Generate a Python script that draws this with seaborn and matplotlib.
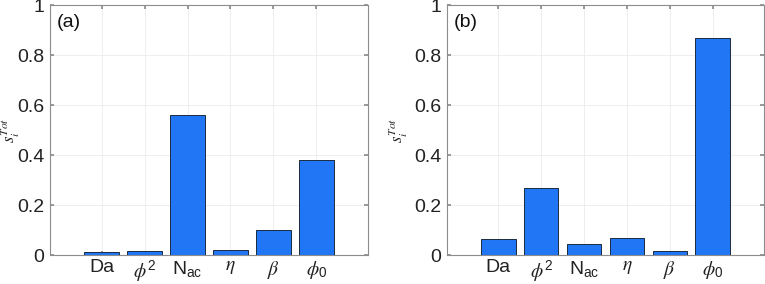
"""Total-order sensitivity indices for two cases, side-by-side bar panels."""

import matplotlib
matplotlib.use("Agg")
import matplotlib.pyplot as plt
import pandas as pd
import seaborn as sns

PARAMS = ["Da", r"$\phi^{\mathregular{2}}$", r"$\mathregular{N_{ac}}$", r"$\eta$", r"$\beta$",
          r"$\phi_{\mathregular{0}}$"]
S_TOT_A = [0.011, 0.016, 0.561, 0.021, 0.100, 0.381]
S_TOT_B = [0.065, 0.268, 0.043, 0.068, 0.016, 0.867]
PANEL_LABELS = ["(a)", "(b)"]
Y_TICKS = [0, 0.2, 0.4, 0.6, 0.8, 1]
Y_TICK_LABELS = ["0", "0.2", "0.4", "0.6", "0.8", "1"]

BAR_COLOR = "#2176f5"
EDGE_COLOR = "#1a2a40"

sns.set_theme(style="white")
plt.rcParams["font.family"] = ["Liberation Sans", "DejaVu Sans"]
plt.rcParams["mathtext.fontset"] = "stix"


def draw_panel(ax, values, label, ylabel_x):
    df = pd.DataFrame({"param": PARAMS, "value": values})
    sns.barplot(data=df, x="param", y="value", color=BAR_COLOR, width=0.8,
                edgecolor=EDGE_COLOR, linewidth=0.7, saturation=1, ax=ax)
    ax.set_xlim(-1.2, 6.2)
    ax.set_ylim(0, 1)
    ax.set_yticks(Y_TICKS)
    ax.set_yticklabels(Y_TICK_LABELS)
    ax.set_xlabel("")
    ax.set_ylabel(r"$s_i^{Tot}$", fontsize=12, va="center")
    ax.yaxis.set_label_coords(ylabel_x, 0.5)
    ax.grid(True, color="#ebebeb", linewidth=0.6)
    ax.set_axisbelow(True)
    for spine in ax.spines.values():
        spine.set_color("#8c8c8c")
        spine.set_linewidth(0.8)
    ax.tick_params(axis="both", direction="in", length=3, color="#8c8c8c",
                   labelsize=14, labelcolor="#222222", top=True, right=True,
                   bottom=True, left=True, pad=4)
    ax.tick_params(axis="x", labelsize=14, pad=3)
    ax.text(0.022, 0.93, label, transform=ax.transAxes, fontsize=14,
            ha="left", va="center", color="#111111")


fig = plt.figure(figsize=(7.65, 2.84), dpi=100)
ax_a = fig.add_axes([50 / 765, 29 / 284, 318 / 765, 250 / 284])
ax_b = fig.add_axes([447 / 765, 29 / 284, 317 / 765, 250 / 284])
draw_panel(ax_a, S_TOT_A, PANEL_LABELS[0], -0.125)
draw_panel(ax_b, S_TOT_B, PANEL_LABELS[1], -0.155)

fig.savefig("out.png", dpi=100)
